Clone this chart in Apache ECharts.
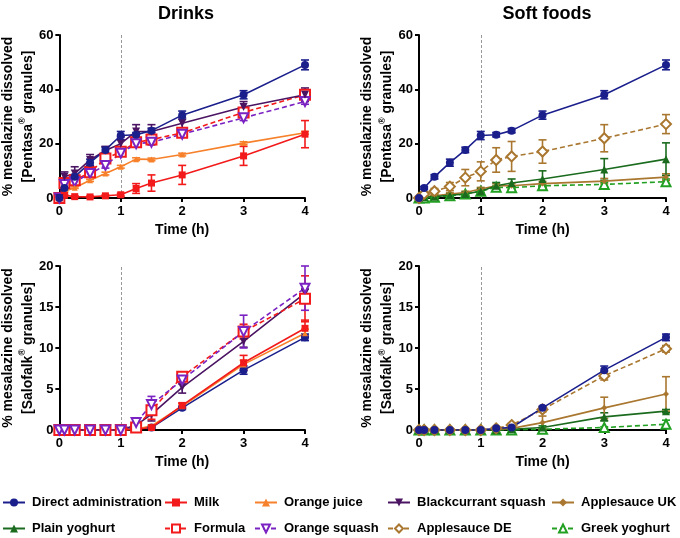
<!DOCTYPE html>
<html><head><meta charset="utf-8">
<script src="https://cdn.jsdelivr.net/npm/echarts@6/dist/echarts.min.js"></script>
<style>html,body{margin:0;padding:0;background:#fff}#c{width:680px;height:538px}</style>
</head><body><div id="c"></div>
<script>
// ---- data ----
const times = [0, 0.083, 0.25, 0.5, 0.75, 1, 1.25, 1.5, 2, 3, 4];
const panelTitles = ['Drinks', 'Soft foods'];
const pentasaTicks = [0, 20, 40, 60];
const salofalkTicks = [0, 5, 10, 15, 20];

// Pentasa (top row)
const directP     = [0, 3.7, 7.8, 13, 17.7, 23, 23.3, 24.8, 30.5, 38, 49];
const directPErr  = [0, 0.5, 0.8, 1.3, 1, 1.5, 0.8, 0.8, 1.5, 1.5, 1.8];
const milkP       = [0, 1, 0.5, 0.4, 0.8, 1.2, 3.5, 5.5, 8.5, 15.5, 23.5];
const milkPErr    = [0, 0.3, 0.3, 0.3, 0.3, 0.5, 1.8, 3, 3.5, 3.5, 5];
const ojP         = [0, 2.5, 3.8, 6.5, 9, 11.5, 14.3, 14.2, 16, 20.2, 24];
const ojPErr      = [0, 0.3, 0.3, 0.4, 0.5, 0.5, 0.5, 0.5, 0.5, 0.5, 0.5];
const blackP      = [0, 7.8, 9, 14, 17.5, 20, 24.5, 24.5, 27.5, 33.5, 38];
const blackPErr   = [0, 1.8, 2.5, 2, 1.5, 2.5, 2.5, 2.5, 2, 2, 2.5];
const formulaP    = [0, 5.5, 6.5, 9.5, 14.5, 17, 20.5, 21.5, 24, 31.5, 38];
const formulaPErr = [0, 1, 1, 1.2, 1.5, 1.2, 1.2, 1, 1.2, 1.5, 1.5];
const osqP        = [0, 5, 6, 9, 12, 16.5, 20, 20.5, 23.5, 29.5, 35.5];
const osqPErr     = [0, 0.8, 0.8, 1, 1, 1, 1, 1, 1, 1, 1];
const asDEP       = [0, 1.5, 2.5, 4.2, 7.5, 9.8, 14, 15.3, 17.1, 22, 27.2];
const asDEPErr    = [0, 0.8, 1, 1.5, 3, 3.5, 4.5, 5.5, 4.3, 5, 3.5];
const plainP      = [0, 0.3, 0.5, 1, 1.5, 2.5, 4.5, 5.5, 7, 10.5, 14.3];
const plainPErr   = [0, 0.2, 0.3, 0.5, 0.6, 1, 1.2, 1.5, 3, 4, 6];
const asUKP       = [0, 0.5, 0.8, 1.5, 2, 3.3, 4.5, 4.5, 5.3, 6.2, 7.7];
const asUKPErr    = [0, 0.2, 0.3, 0.4, 0.5, 0.6, 0.8, 0.8, 0.8, 1, 1.2];
const greekP      = [0, 0, 0.3, 0.8, 1.5, 2.5, 4, 3.8, 4.5, 5, 6];
const greekPErr   = [0, 0, 0.2, 0.3, 0.4, 0.5, 0.6, 0.6, 0.6, 0.8, 1];

// Salofalk (bottom row)
const directS     = [0, 0, 0, 0, 0, 0, 0.2, 0.3, 2.7, 7.3, 11.3];
const directSErr  = [0, 0, 0, 0, 0, 0, 0.1, 0.1, 0.2, 0.5, 0.4];
const milkS       = [0, 0, 0, 0, 0, 0, 0.1, 0.3, 3, 8.2, 12.4];
const milkSErr    = [0, 0, 0, 0, 0, 0, 0.1, 0.1, 0.3, 0.9, 1];
const ojS         = [0, 0, 0, 0, 0, 0, 0.1, 0.5, 2.9, 8, 11.8];
const ojSErr      = [0, 0, 0, 0, 0, 0, 0.1, 0.1, 0.3, 0.5, 0.5];
const blackS      = [0, 0, 0, 0, 0, 0, 0.6, 1.9, 5.2, 10.8, 16.7];
const blackSErr   = [0, 0, 0, 0, 0, 0, 0.3, 0.8, 0.7, 0.7, 0.5];
const formulaS    = [0, 0, 0, 0, 0, 0, 0.3, 2.4, 6.5, 12, 16];
const formulaSErr = [0, 0, 0, 0, 0, 0, 0.3, 1.1, 0.5, 0.9, 2.8];
const osqS        = [0, 0, 0, 0, 0, 0, 0.9, 3.1, 6.1, 12, 17.3];
const osqSErr     = [0, 0, 0, 0, 0, 0, 0.3, 1, 0.5, 2, 2.7];
const asDES       = [0, 0, 0, 0, 0, 0, 0.2, 0.6, 2.5, 6.6, 9.9];
const asDESErr    = [0, 0, 0, 0, 0, 0, 0.1, 0.2, 0.3, 0.5, 0.4];
const asUKS       = [0, 0, 0, 0, 0, 0, 0.1, 0.2, 0.9, 2.7, 4.4];
const asUKSErr    = [0, 0, 0, 0, 0, 0, 0.1, 0.1, 0.8, 1.3, 2.1];
const plainS      = [0, 0, 0, 0, 0, 0, 0, 0.1, 0.3, 1.6, 2.3];
const plainSErr   = [0, 0, 0, 0, 0, 0, 0, 0.1, 0.2, 0.5, 0.2];
const greekS      = [0, 0, 0, 0, 0, 0, 0, 0, 0.1, 0.3, 0.7];
const greekSErr   = [0, 0, 0, 0, 0, 0, 0, 0, 0.1, 0.1, 0.5];

// legend layout (names in reading order, two rows)
const legendRow1 = ['Direct administration','Milk','Orange juice','Blackcurrant squash','Applesauce UK'];
const legendRow2 = ['Plain yoghurt','Formula','Orange squash','Applesauce DE','Greek yoghurt'];

// ---- styles ----
const FONT = '"Liberation Sans", Arial, sans-serif';
const sty = {
  'Direct administration': {color:'#1b1f8c', symbol:'circle', size:8, dash:'solid', rot:0},
  'Milk':                  {color:'#f21a1a', symbol:'rect', size:7, dash:'solid', rot:0},
  'Orange juice':          {color:'#f7802a', symbol:'triangle', size:6, dash:'solid', rot:0},
  'Blackcurrant squash':   {color:'#4b1463', symbol:'triangle', size:8, dash:'solid', rot:180},
  'Applesauce UK':         {color:'#a9772f', symbol:'diamond', size:6, dash:'solid', rot:0},
  'Plain yoghurt':         {color:'#1b6b1e', symbol:'triangle', size:8, dash:'solid', rot:0},
  'Formula':               {color:'#f21a1a', symbol:'emptyRect', size:10, dash:[5,3], rot:0},
  'Orange squash':         {color:'#7a22c2', symbol:'emptyTriangle', size:9, dash:[5,3], rot:180},
  'Applesauce DE':         {color:'#a9772f', symbol:'emptyDiamond', size:10, dash:[5,3], rot:0},
  'Greek yoghurt':         {color:'#22a022', symbol:'emptyTriangle', size:9, dash:[5,3], rot:0}
};

const panels = [
  {grid:0, list:[['Formula',formulaP,formulaPErr],['Orange squash',osqP,osqPErr],['Orange juice',ojP,ojPErr],['Milk',milkP,milkPErr],['Blackcurrant squash',blackP,blackPErr],['Direct administration',directP,directPErr]]},
  {grid:1, list:[['Greek yoghurt',greekP,greekPErr],['Applesauce UK',asUKP,asUKPErr],['Plain yoghurt',plainP,plainPErr],['Applesauce DE',asDEP,asDEPErr],['Direct administration',directP,directPErr]]},
  {grid:2, list:[['Direct administration',directS,directSErr],['Orange juice',ojS,ojSErr],['Milk',milkS,milkSErr],['Blackcurrant squash',blackS,blackSErr],['Formula',formulaS,formulaSErr],['Orange squash',osqS,osqSErr]]},
  {grid:3, list:[['Greek yoghurt',greekS,greekSErr],['Plain yoghurt',plainS,plainSErr],['Applesauce UK',asUKS,asUKSErr],['Applesauce DE',asDES,asDESErr],['Direct administration',directS,directSErr]]}
];

const grids = [
  {left:58, top:35, width:247, height:163},
  {left:419, top:35, width:247, height:163},
  {left:58, top:266, width:247, height:164},
  {left:419, top:266, width:247, height:164}
];

function errRender(color){
  return function(params, api){
    const x = api.value(0), y = api.value(1), e = api.value(2);
    if (!e) return null;
    const a = api.coord([x, y + e]), b = api.coord([x, y - e]);
    const w = 4, st = {stroke: color, lineWidth: 1.6};
    return {type:'group', children:[
      {type:'line', shape:{x1:a[0], y1:a[1], x2:b[0], y2:b[1]}, style:st},
      {type:'line', shape:{x1:a[0]-w, y1:a[1], x2:a[0]+w, y2:a[1]}, style:st},
      {type:'line', shape:{x1:b[0]-w, y1:b[1], x2:b[0]+w, y2:b[1]}, style:st}
    ]};
  };
}

const series = [];
panels.forEach(p => {
  p.list.forEach(([name, vals, errs]) => {
    const s = sty[name];
    series.push({
      type:'custom', xAxisIndex:p.grid, yAxisIndex:p.grid, z:2,
      renderItem: errRender(s.color), silent:true,
      data: times.map((t,i)=>[t, vals[i], errs[i]]),
      encode:{x:0, y:1}
    });
  });
  p.list.forEach(([name, vals], k) => {
    const s = sty[name];
    const ser = {
      type:'line', name, xAxisIndex:p.grid, yAxisIndex:p.grid, z:3,
      data: times.map((t,i)=>[t, vals[i]]),
      symbol:s.symbol, symbolSize:s.size, symbolRotate:s.rot, showAllSymbol:true,
      lineStyle:{color:s.color, width:1.6, type:s.dash},
      itemStyle:{color:s.color, borderWidth:1.6},
      emphasis:{disabled:true}
    };
    if (k === 0) {
      ser.markLine = {silent:true, symbol:['none','none'], label:{show:false},
        lineStyle:{color:'#999', type:[3,2], width:1}, data:[{xAxis:1}], z:1};
    }
    series.push(ser);
  });
});

function yName(brand){
  return '{a|% mesalazine dissolved}\n{a|[' + brand + '}{s|®}{a| granules]}';
}
const nameRich = {
  a:{fontFamily:FONT, fontWeight:'bold', fontSize:14, color:'#000', lineHeight:20},
  s:{fontFamily:FONT, fontWeight:'bold', fontSize:9, color:'#000', lineHeight:20, verticalAlign:'top'}
};

const axisCommon = {
  axisLine:{show:true, onZero:false, lineStyle:{color:'#000', width:2}},
  axisTick:{show:true, length:4, lineStyle:{color:'#000', width:2}},
  axisLabel:{color:'#000', fontWeight:'bold', fontSize:13, fontFamily:FONT},
  splitLine:{show:false}
};

const xAxis = grids.map((g,i)=>Object.assign({}, axisCommon, {
  gridIndex:i, type:'value', min:0, max:4, interval:1,
  axisLabel:Object.assign({}, axisCommon.axisLabel, {margin:7}),
  name:'Time (h)', nameLocation:'middle', nameGap:25,
  nameTextStyle:{color:'#000', fontWeight:'bold', fontSize:14, fontFamily:FONT}
}));
const yAxis = grids.map((g,i)=>{
  const ticks = i < 2 ? pentasaTicks : salofalkTicks;
  return Object.assign({}, axisCommon, {
    gridIndex:i, type:'value', min:ticks[0], max:ticks[ticks.length-1], interval:ticks[1]-ticks[0],
    axisLabel:Object.assign({}, axisCommon.axisLabel, {margin:6}),
    name: yName(i < 2 ? 'Pentasa' : 'Salofalk'), nameLocation:'middle', nameGap:20,
    nameTextStyle:{rich:nameRich}
  });
});

const legendLefts = [2, 164, 254, 387, 551];
const legendTops = [496, 522];
const legend = [];
[legendRow1, legendRow2].forEach((row, r) => {
  row.forEach((name, c) => {
    legend.push({
      data:[name], left: legendLefts[c], top: legendTops[r], padding:0,
      itemWidth: 22, itemHeight: 10, selectedMode:false,
      textStyle:{color:'#000', fontWeight:'bold', fontSize:13, fontFamily:FONT, padding:[0,0,0,2]}
    });
  });
});

const title = panelTitles.map((t,i)=>({
  text:t, left: i === 0 ? 181 : 542, top: 0, textAlign:'center',
  textStyle:{color:'#000', fontWeight:'bold', fontSize:18, fontFamily:FONT}
}));

const chart = echarts.init(document.getElementById('c'), null, {renderer:'canvas'});
chart.setOption({
  animation:false, backgroundColor:'#fff',
  title, legend, grid:grids, xAxis, yAxis, series
});
</script>
</body></html>
